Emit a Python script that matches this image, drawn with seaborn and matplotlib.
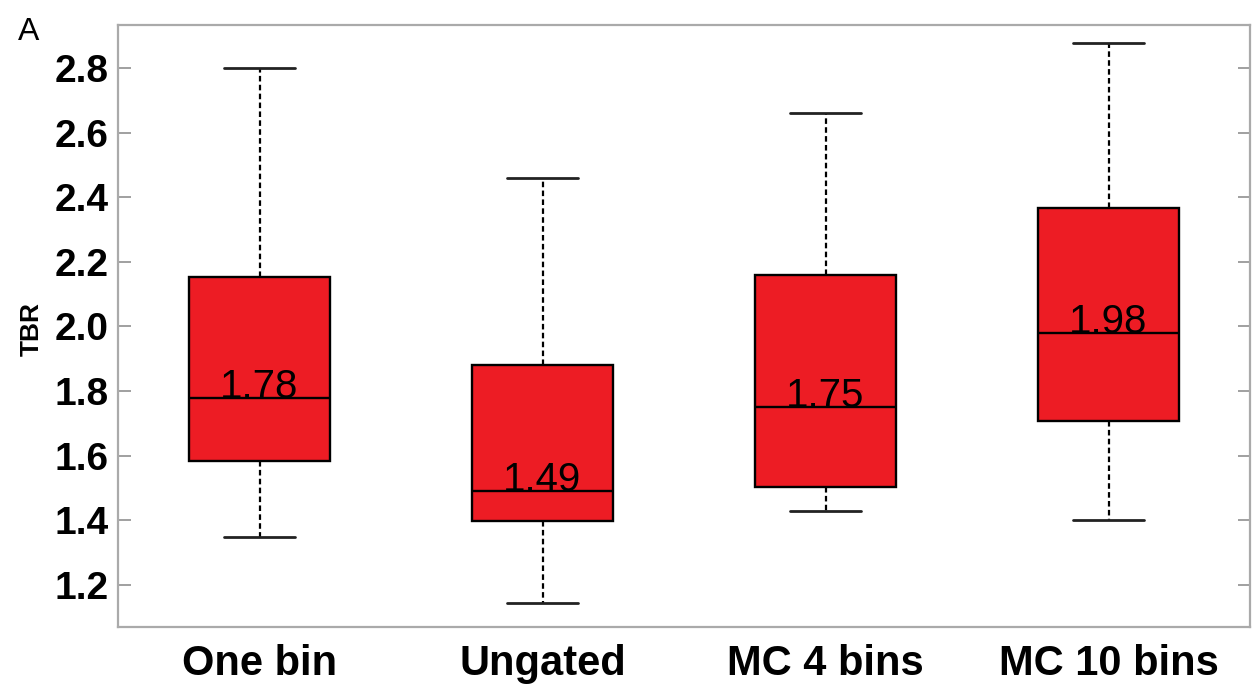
import numpy as np
import pandas as pd
import seaborn as sns
import matplotlib.pyplot as plt

# five-number summaries
methods = ["One bin", "Ungated", "MC 4 bins", "MC 10 bins"]
lower = [1.35, 1.145, 1.43, 1.40]
q1 = [1.585, 1.398, 1.503, 1.707]
medians = [1.78, 1.49, 1.75, 1.98]
q3 = [2.153, 1.880, 2.159, 2.367]
upper = [2.80, 2.46, 2.66, 2.877]

yticks = [1.2, 1.4, 1.6, 1.8, 2.0, 2.2, 2.4, 2.6, 2.8]


def make_plot():
    sns.set_style("white")
    plt.rcParams['font.family'] = ['Liberation Sans', 'DejaVu Sans']
    plt.rcParams['text.color'] = 'black'
    plt.rcParams['xtick.labelcolor'] = 'black'
    plt.rcParams['ytick.labelcolor'] = 'black'
    plt.rcParams['axes.labelcolor'] = 'black'

    # five values per group -> quartiles come out exactly as read
    rows = []
    for i, m in enumerate(methods):
        for v in (lower[i], q1[i], medians[i], q3[i], upper[i]):
            rows.append({"method": m, "TBR": v})
    df = pd.DataFrame(rows)

    fig = plt.figure(figsize=(12.52, 6.85), dpi=100)
    ax = fig.add_axes([118 / 1252, 1 - 627 / 685, 1132 / 1252, 602 / 685])

    sns.boxplot(data=df, x="method", y="TBR", order=methods, ax=ax,
                whis=(0, 100), width=0.5, color="#ED1C24", saturation=1,
                linecolor="black", linewidth=1.7,
                whiskerprops=dict(linestyle=(0, (2.5, 1.5)), linewidth=1.6),
                capprops=dict(linewidth=2.0, color="#222222"),
                showfliers=False)

    # median value printed on each box
    for i, m in enumerate(medians):
        ax.text(i, m, f"{m:.2f}", ha="center", va="baseline",
                fontsize=29, color="black")

    ax.set_xlim(-0.5, 3.5)
    ax.set_ylim(1.07, 2.933)
    ax.set_yticks(yticks)
    ax.set_yticklabels([f"{t:.1f}" for t in yticks], fontsize=28, fontweight="bold")
    ax.set_xticks(range(len(methods)))
    ax.set_xticklabels(methods, fontsize=30, fontweight="bold")
    ax.tick_params(axis="x", length=0, pad=12)
    ax.tick_params(axis="y", direction="in", length=9, width=1.3, color="#999999",
                   right=True, left=True, pad=7)
    for sp in ax.spines.values():
        sp.set_color("#aaaaaa")
        sp.set_linewidth(1.6)

    ax.set_xlabel("")
    ax.set_ylabel("TBR", fontsize=19, fontweight="bold")
    ax.yaxis.set_label_coords(-0.066, 0.495)
    fig.text(18 / 1252, 1 - 40 / 685, "A", fontsize=23)

    fig.savefig("out.png", dpi=100)


if __name__ == "__main__":
    make_plot()
